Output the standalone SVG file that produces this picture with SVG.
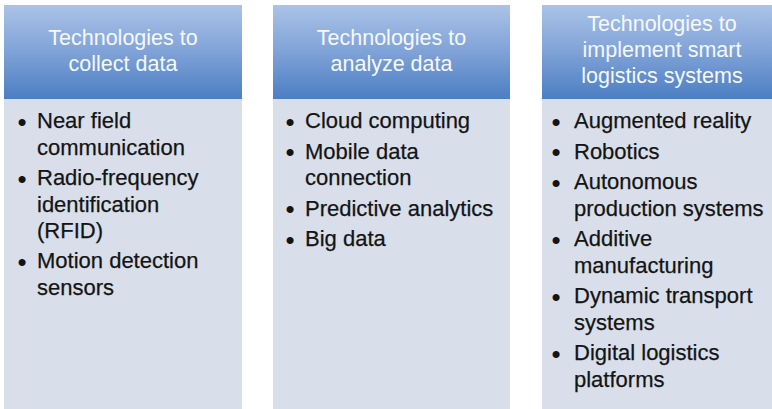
<svg xmlns="http://www.w3.org/2000/svg" width="772" height="409" viewBox="0 0 772 409">
  <defs>
    <linearGradient id="headFill" x1="0" y1="0" x2="0" y2="1">
      <stop offset="0" stop-color="#abc3e8"/>
      <stop offset="0.5" stop-color="#7fa2d7"/>
      <stop offset="1" stop-color="#4b7ec3"/>
    </linearGradient>
  </defs>
  <style>
    .head { fill: url(#headFill); }
    .body { fill: #d9dfea; }
    .title { font-family: "Liberation Sans", Arial, sans-serif; font-size: 21.5px; fill: #f5f8fd; text-anchor: middle; }
    .item { font-family: "Liberation Sans", Arial, sans-serif; font-size: 22px; fill: #141414; stroke: #141414; stroke-width: 0.25px; }
    .dot { font-family: "Liberation Sans", Arial, sans-serif; font-size: 26px; fill: #141414; text-anchor: middle; }
  </style>
  <rect x="0" y="0" width="772" height="409" fill="#ffffff"/>

  <!-- Column 1: collecting data -->
  <g id="collect">
    <rect class="head" x="4" y="5" width="238" height="94"/>
    <rect class="body" x="4" y="99" width="238" height="312"/>
    <text class="title" x="123" y="45">Technologies to</text>
    <text class="title" x="123" y="71">collect data</text>
    <text class="dot" x="22" y="130.5">•</text>
    <text class="item" x="37" y="128">Near field</text>
    <text class="item" x="37" y="154.5">communication</text>
    <text class="dot" x="22" y="187.5">•</text>
    <text class="item" x="37" y="185">Radio-frequency</text>
    <text class="item" x="37" y="211.5">identification</text>
    <text class="item" x="37" y="238">(RFID)</text>
    <text class="dot" x="22" y="270.5">•</text>
    <text class="item" x="37" y="268">Motion detection</text>
    <text class="item" x="37" y="294.5">sensors</text>
  </g>

  <!-- Column 2: analyzing data -->
  <g id="analyze">
    <rect class="head" x="273" y="5" width="237" height="94"/>
    <rect class="body" x="273" y="99" width="237" height="312"/>
    <text class="title" x="391.5" y="45">Technologies to</text>
    <text class="title" x="391.5" y="71">analyze data</text>
    <text class="dot" x="290" y="130.5">•</text>
    <text class="item" x="305" y="128">Cloud computing</text>
    <text class="dot" x="290" y="161">•</text>
    <text class="item" x="305" y="158.5">Mobile data</text>
    <text class="item" x="305" y="185">connection</text>
    <text class="dot" x="290" y="218">•</text>
    <text class="item" x="305" y="215.5">Predictive analytics</text>
    <text class="dot" x="290" y="248.5">•</text>
    <text class="item" x="305" y="246">Big data</text>
  </g>

  <!-- Column 3: implementing smart logistics -->
  <g id="implement">
    <rect class="head" x="542" y="5" width="240" height="94"/>
    <rect class="body" x="542" y="99" width="240" height="312"/>
    <text class="title" x="662" y="31">Technologies to</text>
    <text class="title" x="662" y="57">implement smart</text>
    <text class="title" x="662" y="83">logistics systems</text>
    <text class="dot" x="556" y="130.5">•</text>
    <text class="item" x="574" y="128">Augmented reality</text>
    <text class="dot" x="556" y="161">•</text>
    <text class="item" x="574" y="158.5">Robotics</text>
    <text class="dot" x="556" y="191.5">•</text>
    <text class="item" x="574" y="189">Autonomous</text>
    <text class="item" x="574" y="215.5">production systems</text>
    <text class="dot" x="556" y="248.5">•</text>
    <text class="item" x="574" y="246">Additive</text>
    <text class="item" x="574" y="272.5">manufacturing</text>
    <text class="dot" x="556" y="305.5">•</text>
    <text class="item" x="574" y="303">Dynamic transport</text>
    <text class="item" x="574" y="329.5">systems</text>
    <text class="dot" x="556" y="362.5">•</text>
    <text class="item" x="574" y="360">Digital logistics</text>
    <text class="item" x="574" y="386.5">platforms</text>
  </g>

  <!-- no connectors in this figure -->
  <g id="connectors"/>
</svg>
